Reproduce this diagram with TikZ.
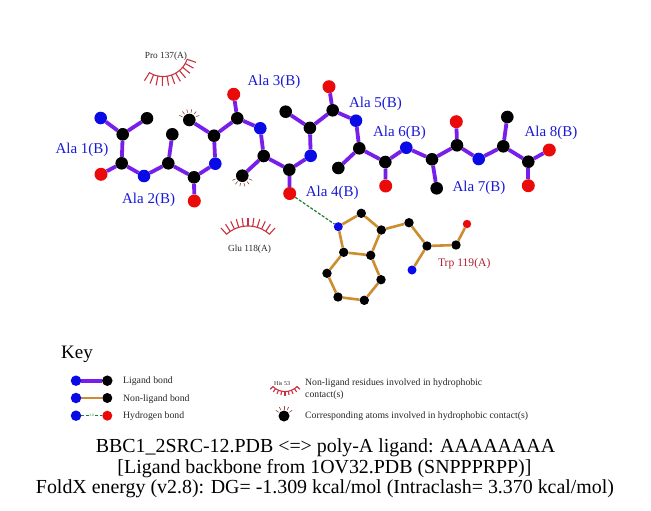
\documentclass[tikz,border=0pt]{standalone}
\usepackage{fontspec}
\setmainfont{Liberation Serif}
\usetikzlibrary{backgrounds}
\definecolor{lig}{RGB}{120,30,235}
\definecolor{nonlig}{RGB}{205,140,45}
\definecolor{hb}{RGB}{30,125,50}
\definecolor{atomN}{RGB}{10,10,230}
\definecolor{atomO}{RGB}{235,10,10}
\definecolor{atomC}{RGB}{0,0,0}
\definecolor{hyd}{RGB}{200,50,65}
\definecolor{hydat}{RGB}{150,70,60}
\definecolor{inkblue}{RGB}{25,25,215}
\definecolor{trp}{RGB}{175,30,50}
\tikzset{
  atom/.style={circle,inner sep=0pt,minimum size=#1},
  C/.style={atom=12.6pt,fill=atomC},
  N/.style={atom=12.6pt,fill=atomN},
  O/.style={atom=13pt,fill=atomO},
  c/.style={atom=9.4pt,fill=atomC},
  n/.style={atom=9pt,fill=atomN},
  o/.style={atom=8.4pt,fill=atomO},
  ligbond/.style={draw=lig,line width=3.8pt},
  nonbond/.style={draw=nonlig,line width=2.6pt},
  hbond/.style={draw=hb,line width=1.2pt,dash pattern=on 3pt off 1.6pt},
  alalab/.style={text=inkblue,yshift=-1.8pt,font=\fontsize{15}{15}\selectfont,inner sep=0pt},
  reslab/.style={text=black!85,yshift=-1.5pt,font=\fontsize{9.3}{9.3}\selectfont,inner sep=0pt},
  trplab/.style={text=trp,yshift=-1.8pt,font=\fontsize{11.6}{11.6}\selectfont,inner sep=0pt},
  keylab/.style={text=black!85,yshift=-1pt,anchor=west,font=\fontsize{9.75}{9.75}\selectfont,inner sep=0pt},
  foot/.style={text=black,yshift=-2pt,font=\fontsize{19.9}{19.9}\selectfont,inner sep=0pt},
}
% centre x, centre y, radius, first angle, last angle, spike count-1, spike length, width, colour
\newcommand{\hydroarc}[9]{%
  \draw[#9,line width=#8pt,line cap=round] plot[domain=#4:#5,samples=30,smooth] ({#1+#3*cos(\x)},{#2+#3*sin(\x)});
  \foreach \i in {0,...,#6}{%
    \pgfmathsetmacro{\ang}{#4+(#5-#4)*\i/#6}
    \pgfmathsetmacro{\xa}{#1+#3*cos(\ang)}
    \pgfmathsetmacro{\ya}{#2+#3*sin(\ang)}
    \pgfmathsetmacro{\xb}{#1+(#3+#7)*cos(\ang)}
    \pgfmathsetmacro{\yb}{#2+(#3+#7)*sin(\ang)}
    \draw[#9,line width=#8pt] (\xa,\ya) -- (\xb,\yb);
  }%
}
\newcommand{\hydrospikes}[7]{%
  \foreach \i in {0,...,#6}{%
    \pgfmathsetmacro{\ang}{#4+(#5-#4)*\i/#6}
    \pgfmathsetmacro{\xa}{#1+#3*cos(\ang)}
    \pgfmathsetmacro{\ya}{#2+#3*sin(\ang)}
    \pgfmathsetmacro{\xb}{#1+(#3+#7)*cos(\ang)}
    \pgfmathsetmacro{\yb}{#2+(#3+#7)*sin(\ang)}
    \draw[hydat,line width=.6pt] (\xa,\ya) -- (\xb,\yb);
  }%
}
\begin{document}
\begin{tikzpicture}[x=1pt,y=-1pt]
\useasboundingbox (0,0) rectangle (651,511);
% ligand atoms
\node[N] (n1) at (100.7,118) {};
\node[C] (ca1) at (122.7,134.3) {};
\node[C] (cb1) at (147,118.3) {};
\node[C] (c1) at (121.7,163.3) {};
\node[O] (o1) at (101,174.3) {};
\node[N] (n2) at (144,176) {};
\node[C] (ca2) at (168.3,163.3) {};
\node[C] (cb2) at (172.3,134.3) {};
\node[C] (c2) at (194,177.3) {};
\node[O] (o2) at (194.3,201) {};
\node[N] (n3) at (215.3,163.7) {};
\node[C] (ca3) at (214,135.7) {};
\node[C] (cb3) at (189.3,120) {};
\node[C] (c3) at (237.3,118.3) {};
\node[O] (o3) at (233.7,94.3) {};
\node[N] (n4) at (260.3,128.3) {};
\node[C] (ca4) at (263.7,156) {};
\node[C] (cb4) at (242.3,175.7) {};
\node[C] (c4) at (289.3,169.7) {};
\node[O] (o4) at (289.7,193.5) {};
\node[N] (n5) at (310.7,155.8) {};
\node[C] (ca5) at (309.9,127.9) {};
\node[C] (cb5) at (285.7,111.7) {};
\node[C] (c5) at (332.7,110.3) {};
\node[O] (o5) at (329,86.7) {};
\node[N] (n6) at (356,120.7) {};
\node[C] (ca6) at (359.3,148.3) {};
\node[C] (cb6) at (338.3,168) {};
\node[C] (c6) at (385.3,162) {};
\node[O] (o6) at (385.7,186) {};
\node[N] (n7) at (406.3,147.7) {};
\node[C] (ca7) at (432,159.3) {};
\node[C] (cb7) at (436.7,188.3) {};
\node[C] (c7) at (457,145.3) {};
\node[O] (o7) at (456.3,121.7) {};
\node[N] (n8) at (478.7,159) {};
\node[C] (ca8) at (503.3,146.3) {};
\node[C] (cb8) at (507.3,117) {};
\node[C] (c8) at (528.3,161.7) {};
\node[O] (ot1) at (549.3,150) {};
\node[O] (ot2) at (528.3,185.7) {};
% Trp atoms
\node[n] (tn) at (338.3,226.7) {};
\node[c] (t1) at (361.3,213.3) {};
\node[c] (t2) at (381.3,230) {};
\node[c] (t3) at (370.7,255.3) {};
\node[c] (t4) at (343.7,252.3) {};
\node[c] (t5) at (327,273.3) {};
\node[c] (t6) at (338,297) {};
\node[c] (t7) at (364.3,300.3) {};
\node[c] (t8) at (381,279.7) {};
\node[c] (t9) at (409,222.7) {};
\node[c] (t10) at (427,246) {};
\node[c] (t11) at (456,245) {};
\node[o] (t12) at (467,224) {};
\node[n] (t13) at (412,270) {};
% key atoms
\node[N,atom=10.5pt] (k1) at (76,380.7) {};
\node[C,atom=10.5pt] (k2) at (107.3,380.7) {};
\node[N,atom=10.5pt] (k3) at (76,398) {};
\node[C,atom=10pt] (k4) at (107.3,398) {};
\node[N,atom=10.5pt] (k5) at (76,415.7) {};
\node[O,atom=10pt] (k6) at (107.3,415.7) {};
\node[C,atom=11pt] (k7) at (284,416) {};
\begin{scope}[on background layer]
\foreach \a/\b in {n1/ca1,cb1/ca1,ca1/c1,c1/o1,c1/n2,n2/ca2,ca2/cb2,ca2/c2,c2/o2,c2/n3,n3/ca3,ca3/cb3,ca3/c3,c3/o3,c3/n4,n4/ca4,ca4/cb4,ca4/c4,c4/o4,c4/n5,n5/ca5,ca5/cb5,ca5/c5,c5/o5,c5/n6,n6/ca6,ca6/cb6,ca6/c6,c6/o6,c6/n7,n7/ca7,ca7/cb7,ca7/c7,c7/o7,c7/n8,n8/ca8,ca8/cb8,ca8/c8,c8/ot1,c8/ot2,k1/k2}
  \draw[ligbond] (\a) -- (\b);
\foreach \a/\b in {tn/t1,t1/t2,t2/t3,t3/t4,t4/tn,t4/t5,t5/t6,t6/t7,t7/t8,t8/t3,t2/t9,t9/t10,t10/t11,t11/t12,t10/t13,k3/k4}
  \draw[nonbond] (\a) -- (\b);
\draw[hbond] (o4) -- (tn);
\draw[hbond] (k5) -- (k6);
\end{scope}
\node[inner sep=.5pt,fill=white,text=hb,font=\fontsize{3.5}{3.5}\selectfont] (k8) at (91.6,415.7) {3.0};
% hydrophobic contacts
\hydroarc{163}{51}{25.5}{19}{122}{10}{9.5}{1.1}{hyd}
\hydroarc{248}{258}{32}{-132}{-48}{10}{8.5}{1.1}{hyd}
\hydroarc{285}{374.5}{17}{45}{135}{8}{4}{1.1}{hyd}
\hydrospikes{189.3}{120}{7.5}{205}{335}{5}{3.5}
\hydrospikes{242.3}{175.7}{7.5}{25}{155}{5}{3.5}
\hydrospikes{284}{416}{6.5}{215}{325}{4}{3.5}
% labels
\node[alalab] (l1) at (82,148) {Ala 1(B)};
\node[alalab] (l2) at (148.6,197.7) {Ala 2(B)};
\node[alalab] (l3) at (274,80) {Ala 3(B)};
\node[alalab] (l4) at (332.2,190.7) {Ala 4(B)};
\node[alalab] (l5) at (375.5,101.7) {Ala 5(B)};
\node[alalab] (l6) at (399.5,130.7) {Ala 6(B)};
\node[alalab] (l7) at (479,185.7) {Ala 7(B)};
\node[alalab] (l8) at (551,130.7) {Ala 8(B)};
\node[reslab] (r1) at (166,54.5) {Pro 137(A)};
\node[reslab] (r2) at (249.5,248) {Glu 118(A)};
\node[trplab] (r3) at (464.2,261.7) {Trp 119(A)};
\node[font=\fontsize{19}{19}\selectfont,yshift=-2pt,inner sep=0pt,anchor=west] (key) at (61,352) {Key};
\node[keylab] (kl1) at (123,380) {Ligand bond};
\node[keylab] (kl2) at (123,397.7) {Non-ligand bond};
\node[keylab] (kl3) at (123,415) {Hydrogen bond};
\node[keylab,font=\fontsize{6}{6}\selectfont] (kl4) at (274,382.3) {His 53};
\node[keylab] (kl5) at (305,382) {Non-ligand residues involved in hydrophobic};
\node[keylab] (kl6) at (305,393.7) {contact(s)};
\node[keylab] (kl7) at (305,415) {Corresponding atoms involved in hydrophobic contact(s)};
\node[foot] (f1) at (325.5,446) {BBC1\_2SRC-12.PDB <=> poly-A ligand: AAAAAAAA};
\node[foot] (f2) at (324.5,466.5) {[Ligand backbone from 1OV32.PDB (SNPPPRPP)]};
\node[foot] (f3) at (325,486.5) {FoldX energy (v2.8): DG= -1.309 kcal/mol (Intraclash= 3.370 kcal/mol)};
\end{tikzpicture}
\end{document}
